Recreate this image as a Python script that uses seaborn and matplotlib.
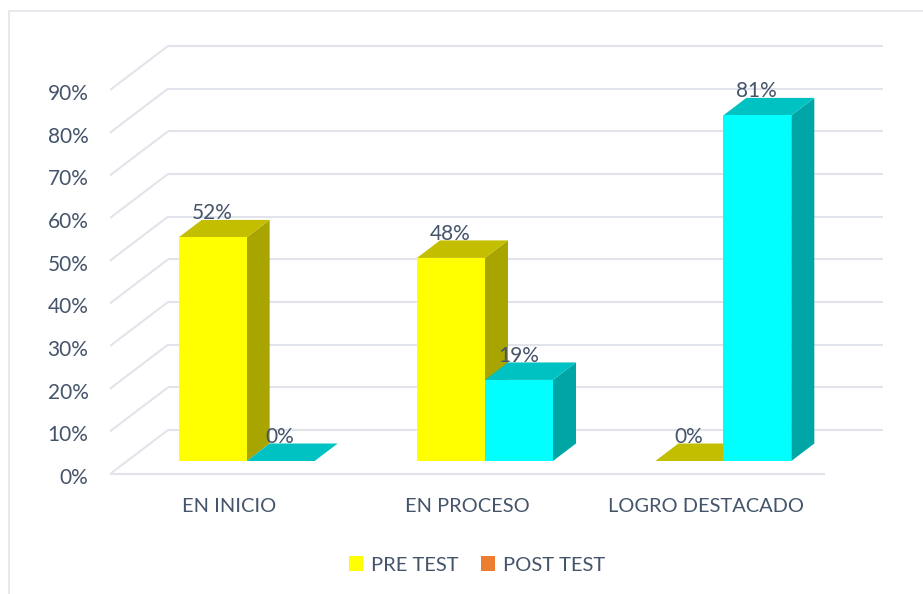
import matplotlib
matplotlib.use("Agg")
import matplotlib.pyplot as plt
from matplotlib.patches import Patch, Polygon, Rectangle
from matplotlib.transforms import ScaledTranslation
import pandas as pd
import seaborn as sns

categories = ["EN INICIO", "EN PROCESO", "LOGRO DESTACADO"]
pre_test = [52.4, 47.6, 0]
post_test = [0, 19, 81]
series_names = ["PRE TEST", "POST TEST"]
y_ticks = [0, 10, 20, 30, 40, 50, 60, 70, 80, 90]

front_colors = ["#FFFF00", "#00FFFF"]
top_colors = ["#C4BE00", "#00C2C2"]
side_colors = ["#A8A400", "#00A5A5"]
legend_colors = ["#FFFF00", "#ED7D31"]
grid_color = "#E1E4EB"
text_color = "#44546A"

W, H = 923, 594
sns.set_theme(style="white")
plt.rcParams["font.family"] = ["Lato", "DejaVu Sans"]

fig = plt.figure(figsize=(W / 100, H / 100), dpi=100)
left, right, bottom, top = 110, 825, 474, 90
ax = fig.add_axes([left / W, 1 - bottom / H, (right - left) / W, (bottom - top) / H])

df = pd.DataFrame({
    "categoria": categories * 2,
    "serie": [series_names[0]] * 3 + [series_names[1]] * 3,
    "valor": pre_test + post_test,
})
sns.barplot(data=df, x="categoria", y="valor", hue="serie", order=categories,
            hue_order=series_names, palette=front_colors, saturation=1,
            width=0.5706, gap=0, dodge=True, legend=False, linewidth=0, ax=ax)

ax.set_xlim(-0.5, 2.5)
ax.set_ylim(0, 90)
px_x = 3 / (right - left)
px_y = 90 / (bottom - top)

# depth vectors, data units
wall_dx, wall_dy = 58 * px_x, 44 * px_y
bar_dx, bar_dy = 23 * px_x, 17.5 * px_y
off_x, off_y = 17.5 * px_x, 13 * px_y

# walls and gridlines
x0, x1 = ax.get_xlim()
grid_kw = dict(color=grid_color, lw=1.5, clip_on=False, zorder=1, solid_capstyle="butt")
for v in y_ticks:
    ax.plot([x0, x0 + wall_dx], [v, v + wall_dy], **grid_kw)
    ax.plot([x0 + wall_dx, x1 + wall_dx], [v + wall_dy, v + wall_dy], **grid_kw)
ax.plot([x0, x1], [0, 0], **grid_kw)

# bars: shift the seaborn bars and extrude them
bars = []
for s, cont in enumerate(ax.containers):
    for bar in cont:
        bars.append((bar.get_x(), s, bar))
bars.sort(key=lambda t: t[0])
z = 3
for _, s, bar in bars:
    bx, bw, bh = bar.get_x() + off_x, bar.get_width(), bar.get_height()
    bar.set_x(bx)
    bar.set_y(off_y)
    yt = off_y + bh
    side = Polygon([(bx + bw, off_y), (bx + bw + bar_dx, off_y + bar_dy),
                    (bx + bw + bar_dx, yt + bar_dy), (bx + bw, yt)],
                   closed=True, fc=side_colors[s], ec="none", clip_on=False, zorder=z)
    topf = Polygon([(bx, yt), (bx + bw, yt), (bx + bw + bar_dx, yt + bar_dy),
                    (bx + bar_dx, yt + bar_dy)],
                   closed=True, fc=top_colors[s], ec="none", clip_on=False, zorder=z + 0.1)
    ax.add_patch(side)
    ax.add_patch(topf)
    bar.set_zorder(z + 0.2)
    bar.set_clip_on(False)
    z += 1
    ax.text(bx + bw / 2 - 0.5 * px_x, yt + 24 * px_y, f"{bh:.0f}%", ha="center", va="center",
            fontsize=15, color=text_color, zorder=50, clip_on=False)

ax.set_xlabel("")
ax.set_ylabel("")
ax.set_yticks(y_ticks)
ax.set_yticklabels([f"{v}%" for v in y_ticks])
ax.tick_params(axis="y", length=0, pad=15.5, labelsize=15, labelcolor=text_color)
ax.tick_params(axis="x", length=0, pad=17, labelsize=14.4, labelcolor=text_color)
shift = ScaledTranslation(0, -2 / 100, fig.dpi_scale_trans)
for lab in ax.get_yticklabels():
    lab.set_transform(lab.get_transform() + shift)
for sp in ax.spines.values():
    sp.set_visible(False)
ax.patch.set_alpha(0)

handles = [Patch(fc=c, ec="none", label=n) for c, n in zip(legend_colors, series_names)]
ax.legend(handles=handles, loc="center", bbox_to_anchor=(477 / W, 1 - 565 / H),
          bbox_transform=fig.transFigure, ncol=2, frameon=False, fontsize=14.5,
          labelcolor=text_color, handlelength=0.7, handleheight=0.7,
          handletextpad=0.4, columnspacing=1.1)

# outer chart frame, open past the right and bottom edges
fig.add_artist(Rectangle((9 / W, -0.05), 1.1, 1 - 10.5 / H + 0.05, transform=fig.transFigure,
                         fc="none", ec=grid_color, lw=1.2))

fig.savefig("out.png", dpi=100, facecolor="white")
